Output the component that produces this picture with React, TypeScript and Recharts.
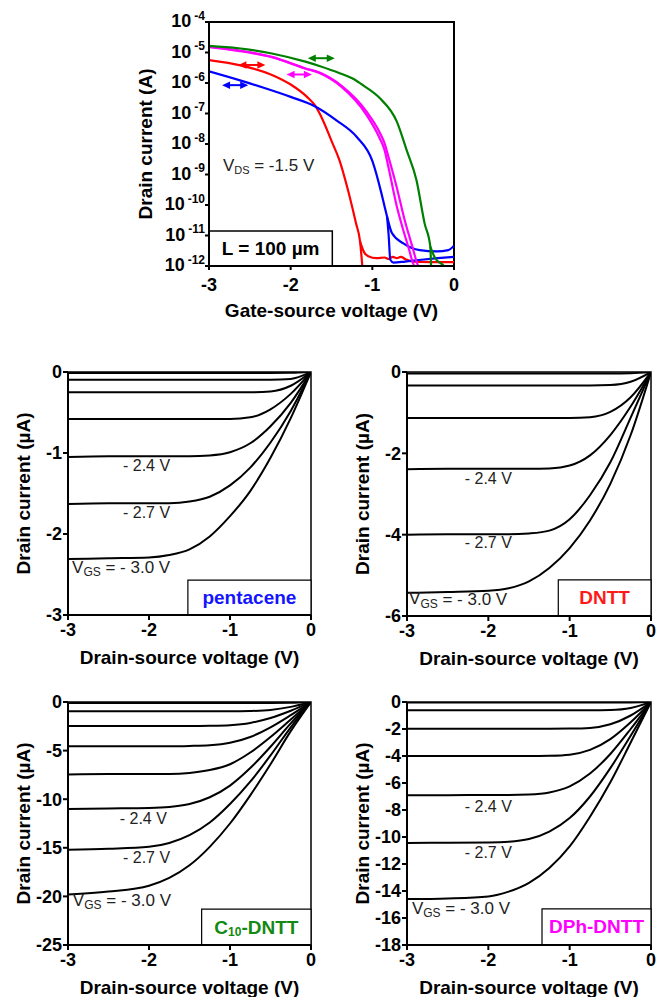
import React from "react";
import { LineChart, Line, XAxis, YAxis, ReferenceArea, ReferenceLine, ReferenceDot } from "recharts";

const FONT = '"Liberation Sans", Arial, Helvetica, sans-serif';

// ---- transfer curves (V_GS in V, |I_D| in A), V_DS = -1.5 V ----
const redV = [-3, -2.6, -2.2, -2.0, -1.8, -1.7, -1.6, -1.5, -1.4, -1.3, -1.2, -1.15, -1.12];
const redI = [5.6e-6, 3.7e-6, 1.7e-6, 8.9e-7, 3.5e-7, 1.8e-7, 5.6e-8, 1.26e-8, 2.8e-9, 3.2e-10, 2.5e-11, 6.3e-12, 8e-13];
const redOffV = [-1.15, -1.1, -1.05, -0.95, -0.85, -0.8, -0.75, -0.7, -0.65, -0.6, -0.5, -0.3, 0];
const redOffI = [6.3e-12, 2.8e-12, 2.1e-12, 1.8e-12, 1.9e-12, 1.7e-12, 2.0e-12, 1.8e-12, 2.0e-12, 1.7e-12, 1.4e-12, 1.35e-12, 1.35e-12];

const blueV = [-3, -2.6, -2.34, -2.0, -1.7, -1.44, -1.19, -1.0, -0.89, -0.85, -0.82, -0.76, -0.62, -0.42, -0.21, -0.07, 0];
const blueI = [2.4e-6, 1.17e-6, 7.1e-7, 3.5e-7, 1.7e-7, 6.0e-8, 1.7e-8, 2.8e-9, 2.5e-10, 8.9e-11, 4.2e-11, 1.2e-11, 5.5e-12, 3.3e-12, 3.0e-12, 3.3e-12, 4.6e-12];
const blueOffV = [-0.82, -0.8, -0.78, -0.74, -0.6, -0.4, -0.2, 0];
const blueOffI = [4.2e-11, 1.0e-11, 1.6e-12, 1.3e-12, 1.4e-12, 1.6e-12, 1.8e-12, 2.0e-12];

const magV = [-3, -2.64, -2.23, -1.82, -1.64, -1.38, -1.07, -0.91, -0.85, -0.8, -0.7, -0.63, -0.56, -0.5, -0.47];
const magI = [1.55e-5, 1.17e-5, 7.2e-6, 3.0e-6, 2.1e-6, 7.6e-7, 8.9e-8, 1.55e-8, 6.3e-9, 1.6e-9, 8.9e-11, 1.8e-11, 4.3e-12, 1.2e-12, 8e-13];
const mag2V = [-3, -2.64, -2.23, -1.82, -1.64, -1.38, -1.07, -0.91, -0.85, -0.8, -0.7, -0.61, -0.51, -0.45, -0.42];
const mag2I = [1.5e-5, 1.13e-5, 7.0e-6, 3.0e-6, 2.15e-6, 8.2e-7, 1.15e-7, 2.4e-8, 1.05e-8, 3.6e-9, 3.7e-10, 3.7e-11, 4.3e-12, 1.2e-12, 8e-13];

const greenV = [-3, -2.64, -2.23, -1.82, -1.64, -1.4, -1.23, -1.1, -0.91, -0.7, -0.58, -0.46, -0.36, -0.29, -0.28];
const greenI = [1.66e-5, 1.38e-5, 9.3e-6, 5.0e-6, 3.55e-6, 2.1e-6, 1.35e-6, 7.9e-7, 3.2e-7, 5.4e-8, 6.3e-9, 6.6e-10, 2.5e-11, 4.3e-12, 8e-13];
const greenOffV = [-0.29, -0.23, -0.18, -0.13, -0.11];
const greenOffI = [4.3e-12, 1.8e-12, 1.3e-12, 1.05e-12, 8e-13];

const decades = [1e-12, 1e-11, 1e-10, 1e-9, 1e-8, 1e-7, 1e-6, 1e-5, 1e-4];

// ---- output curves (V_DS in V, I_D in uA), V_GS from -0.9/-1.2 V to -3.0 V ----
const vds = [0, -0.25, -0.5, -0.75, -1, -1.25, -1.5, -1.75, -2, -2.5, -3];

const pen30 = [0, -0.57, -1.06, -1.47, -1.78, -2.03, -2.19, -2.26, -2.29, -2.3, -2.31];
const pen27 = [0, -0.48, -0.87, -1.18, -1.4, -1.54, -1.6, -1.62, -1.62, -1.62, -1.63];
const pen24 = [0, -0.38, -0.67, -0.88, -0.99, -1.03, -1.04, -1.04, -1.04, -1.04, -1.05];
const pen21 = [0, -0.27, -0.46, -0.56, -0.58, -0.58, -0.58, -0.58, -0.58, -0.58, -0.58];
const pen18 = [0, -0.17, -0.24, -0.25, -0.25, -0.25, -0.25, -0.25, -0.25, -0.25, -0.25];
const pen15 = [0, -0.085, -0.095, -0.095, -0.095, -0.095, -0.095, -0.095, -0.095, -0.095, -0.095];
const pen12 = [0, -0.01, -0.012, -0.012, -0.012, -0.012, -0.012, -0.012, -0.012, -0.012, -0.012];

const dntt30 = [0, -1.55, -2.75, -3.65, -4.33, -4.82, -5.15, -5.32, -5.38, -5.41, -5.43];
const dntt27 = [0, -1.12, -2.22, -3.03, -3.62, -3.9, -3.97, -3.99, -3.99, -3.99, -4.0];
const dntt24 = [0, -0.85, -1.55, -2.05, -2.3, -2.37, -2.38, -2.38, -2.38, -2.38, -2.39];
const dntt21 = [0, -0.62, -0.98, -1.11, -1.13, -1.13, -1.13, -1.13, -1.13, -1.13, -1.13];
const dntt18 = [0, -0.24, -0.32, -0.33, -0.33, -0.33, -0.33, -0.33, -0.33, -0.33, -0.33];
const dntt15 = [0, -0.03, -0.035, -0.035, -0.035, -0.035, -0.035, -0.035, -0.035, -0.035, -0.035];

const c10_30 = [0, -3.0, -6.4, -9.6, -12.5, -14.9, -16.8, -18.1, -18.9, -19.5, -19.8];
const c10_27 = [0, -2.6, -5.5, -8.2, -10.5, -12.4, -13.7, -14.5, -14.9, -15.1, -15.2];
const c10_24 = [0, -2.2, -4.6, -6.8, -8.6, -9.8, -10.5, -10.8, -10.9, -10.95, -11.0];
const c10_21 = [0, -1.8, -3.6, -5.2, -6.4, -7.0, -7.3, -7.4, -7.4, -7.4, -7.45];
const c10_18 = [0, -1.35, -2.6, -3.6, -4.2, -4.45, -4.52, -4.55, -4.55, -4.55, -4.55];
const c10_15 = [0, -0.9, -1.65, -2.15, -2.38, -2.45, -2.47, -2.47, -2.47, -2.47, -2.47];
const c10_12 = [0, -0.5, -0.82, -0.93, -0.96, -0.96, -0.96, -0.96, -0.96, -0.96, -0.96];
const c10_09 = [0, -0.09, -0.1, -0.1, -0.1, -0.1, -0.1, -0.1, -0.1, -0.1, -0.1];

const dph30 = [0, -3.0, -5.95, -8.5, -10.7, -12.3, -13.4, -14.05, -14.4, -14.55, -14.6];
const dph27 = [0, -2.5, -4.9, -7.0, -8.6, -9.6, -10.15, -10.35, -10.4, -10.42, -10.45];
const dph24 = [0, -2.0, -3.85, -5.3, -6.25, -6.7, -6.85, -6.88, -6.88, -6.9, -6.9];
const dph21 = [0, -1.5, -2.75, -3.55, -3.9, -3.98, -4.0, -4.0, -4.0, -4.0, -4.0];
const dph18 = [0, -1.0, -1.65, -1.92, -1.97, -1.98, -1.98, -1.98, -1.98, -1.98, -1.98];
const dph15 = [0, -0.45, -0.6, -0.62, -0.62, -0.62, -0.62, -0.62, -0.62, -0.62, -0.62];
const dph12 = [0, -0.03, -0.04, -0.04, -0.04, -0.04, -0.04, -0.04, -0.04, -0.04, -0.04];

const vdsTicks = [-3, -2, -1, 0];

const pts = (xs: number[], ys: number[]) => xs.map((v, i) => ({ v, i: ys[i] }));

const rows = (curves: number[][]) =>
  vds.map((v, i) => {
    const r: any = { v };
    curves.forEach((c, k) => (r["c" + k] = c[i]));
    return r;
  });

const tickStyle = { fill: "#000", fontSize: 18, fontWeight: 700, fontFamily: FONT };
const axisLine = { stroke: "#000", strokeWidth: 2 };

function PowTick({ x, y, payload }: any) {
  const exp = Math.round(Math.log10(payload.value));
  return (
    <text x={x} y={y} textAnchor="end" fontFamily={FONT} fontWeight={700} fill="#000">
      <tspan fontSize={18} dy={5}>10</tspan>
      <tspan fontSize={12} dy={-7.5} dx={3}>{exp}</tspan>
    </text>
  );
}

const xTitle = (text: string, dy: number) => ({
  content: (p: any) => {
    const vb = p.viewBox;
    return (
      <text x={vb.x + vb.width / 2} y={vb.y + dy} textAnchor="middle" dominantBaseline="central"
        fontFamily={FONT} fontWeight={700} fontSize={19} fill="#000">{text}</text>
    );
  },
});

const yTitle = (text: string, dx: number) => ({
  content: (p: any) => {
    const vb = p.viewBox;
    const cx = vb.x + vb.width - dx;
    const cy = vb.y + vb.height / 2;
    return (
      <text x={cx} y={cy} transform={`rotate(-90 ${cx} ${cy})`} textAnchor="middle" dominantBaseline="central"
        fontFamily={FONT} fontWeight={700} fontSize={19} fill="#000">{text}</text>
    );
  },
});

function Arrow({ x1, y1, x2, y2, color }: any) {
  const h = 6;
  return (
    <g>
      <line x1={x1 + 3} y1={y1} x2={x2 - 3} y2={y2} stroke={color} strokeWidth={2} />
      <polygon points={`${x1},${y1} ${x1 + h + 2},${y1 - h / 1.6} ${x1 + h + 2},${y1 + h / 1.6}`} fill={color} />
      <polygon points={`${x2},${y2} ${x2 - h - 2},${y2 - h / 1.6} ${x2 - h - 2},${y2 + h / 1.6}`} fill={color} />
    </g>
  );
}

function Note({ cx, cy, text }: any) {
  return (
    <text x={cx} y={cy} textAnchor="middle" dominantBaseline="central"
      fontFamily={FONT} fontSize={16} fill="#222">{text}</text>
  );
}

function VgsNote({ cx, cy }: any) {
  return (
    <text x={cx} y={cy} dominantBaseline="central" fontFamily={FONT} fontSize={17} fill="#222">
      V<tspan fontSize={12} dy={5}>GS</tspan>
      <tspan dy={-5}> = - 3.0 V</tspan>
    </text>
  );
}

const boxLabel = (name: string, color: string, sub?: string, rest?: string) => ({
  content: (p: any) => {
    const vb = p.viewBox;
    return (
      <text x={vb.x + vb.width / 2} y={vb.y + vb.height / 2} textAnchor="middle" dominantBaseline="central"
        fontFamily={FONT} fontWeight={700} fontSize={19} fill={color}>
        {name}
        {sub ? <tspan fontSize={12} dy={5}>{sub}</tspan> : null}
        {rest ? <tspan dy={sub ? -5 : 0}>{rest}</tspan> : null}
      </text>
    );
  },
});

function OutputPanel(props: any) {
  const { left, top, w, h, yW, xH, rM, curves, yTicks, box, label, notes } = props;
  const yMin = yTicks[yTicks.length - 1];
  const data = rows(curves);
  return (
    <div style={{ position: "absolute", left, top }}>
      <LineChart width={w} height={h} data={data} margin={{ top: 32, right: rM, left: 0, bottom: 0 }}>
        <XAxis type="number" dataKey="v" domain={[-3, 0]} ticks={vdsTicks} allowDataOverflow height={xH}
          axisLine={axisLine} tickLine={axisLine} tickSize={5} tickMargin={3} tick={tickStyle}
          label={xTitle("Drain-source voltage (V)", 42)} />
        <YAxis type="number" domain={[yMin, 0]} ticks={yTicks} allowDataOverflow width={yW}
          axisLine={axisLine} tickLine={axisLine} tickSize={5} tickMargin={1} tick={tickStyle}
          label={yTitle("Drain current (µA)", 45)} />
        <ReferenceArea x1={-3} x2={0} y1={yMin} y2={0} fill="none" stroke="#000" strokeWidth={1.5} fillOpacity={0} />
        {curves.map((_: any, k: number) => (
          <Line key={k} dataKey={"c" + k} type="monotone" stroke="#000" strokeWidth={2} dot={false}
            activeDot={false} isAnimationActive={false} />
        ))}
        <ReferenceArea x1={box[0]} x2={0} y1={yMin} y2={box[1]} fill="#fff" fillOpacity={1} stroke="#000"
          strokeWidth={1.2} label={label} />
        <ReferenceDot x={notes[0][0]} y={notes[0][1]} r={0} ifOverflow="visible"
          shape={(p: any) => <Note cx={p.cx} cy={p.cy} text="- 2.4 V" />} />
        <ReferenceDot x={notes[1][0]} y={notes[1][1]} r={0} ifOverflow="visible"
          shape={(p: any) => <Note cx={p.cx} cy={p.cy} text="- 2.7 V" />} />
        <ReferenceDot x={notes[2][0]} y={notes[2][1]} r={0} ifOverflow="visible"
          shape={(p: any) => <VgsNote cx={p.cx} cy={p.cy} />} />
      </LineChart>
    </div>
  );
}

function TransferPanel() {
  const series = [
    { d: pts(redV, redI), c: "#ff0000" },
    { d: pts(redOffV, redOffI), c: "#ff0000" },
    { d: pts(blueV, blueI), c: "#0000ff" },
    { d: pts(blueOffV, blueOffI), c: "#0000ff" },
    { d: pts(magV, magI), c: "#ff00ff" },
    { d: pts(mag2V, mag2I), c: "#ff00ff" },
    { d: pts(greenV, greenI), c: "#008000" },
    { d: pts(greenOffV, greenOffI), c: "#008000" },
  ];
  const arrows = [
    { a: -2.64, b: -2.31, y: 3.9e-6, c: "#ff0000" },
    { a: -2.84, b: -2.52, y: 8.5e-7, c: "#0000ff" },
    { a: -2.05, b: -1.74, y: 1.9e-6, c: "#ff00ff" },
    { a: -1.79, b: -1.46, y: 6.5e-6, c: "#008000" },
  ];
  return (
    <div style={{ position: "absolute", left: 0, top: 0 }}>
      <LineChart width={659} height={330} margin={{ top: 22, right: 205, left: 0, bottom: 24 }}>
        <XAxis type="number" dataKey="v" domain={[-3, 0]} ticks={vdsTicks} allowDataOverflow height={40}
          axisLine={axisLine} tickLine={axisLine} tickSize={4} tickMargin={8} tick={tickStyle}
          label={xTitle("Gate-source voltage (V)", 44)} />
        <YAxis type="number" scale="log" domain={[1e-12, 1e-4]} ticks={decades} allowDataOverflow width={209}
          axisLine={axisLine} tickLine={axisLine} tickSize={4} tickMargin={0}
          tick={(p: any) => <PowTick {...p} />} label={yTitle("Drain current (A)", 64)} />
        <ReferenceArea x1={-3} x2={0} y1={1e-12} y2={1e-4} fill="none" fillOpacity={0} stroke="#000" strokeWidth={2} />
        <ReferenceArea x1={-3} x2={-1.49} y1={1e-12} y2={1.4e-11} fill="#fff" fillOpacity={1} stroke="#000"
          strokeWidth={1.5} label={boxLabel("L = 100 µm", "#000")} />
        {series.map((s, k) => (
          <Line key={k} data={s.d} dataKey="i" type="monotone" stroke={s.c} strokeWidth={2.2} dot={false}
            activeDot={false} isAnimationActive={false} />
        ))}
        {arrows.map((a, k) => (
          <ReferenceLine key={k} segment={[{ x: a.a, y: a.y }, { x: a.b, y: a.y }]}
            shape={(p: any) => <Arrow {...p} color={a.c} />} />
        ))}
        <ReferenceDot x={-2.83} y={2.0e-9} r={0} ifOverflow="visible"
          shape={(p: any) => (
            <text x={p.cx} y={p.cy} dominantBaseline="central" fontFamily={FONT} fontSize={17} fill="#222">
              V<tspan fontSize={11} dy={5}>DS</tspan>
              <tspan dy={-5}> = -1.5 V</tspan>
            </text>
          )} />
      </LineChart>
    </div>
  );
}

export default function App() {
  return (
    <div style={{ position: "relative", width: 659, height: 997, background: "#fff", overflow: "hidden" }}>
      <style>{"body{margin:0}"}</style>
      <TransferPanel />
      <OutputPanel left={0} top={340} w={330} h={340} yW={68} xH={65} rM={19}
        curves={[pen12, pen15, pen18, pen21, pen24, pen27, pen30]} yTicks={[0, -1, -2, -3]}
        box={[-1.52, -2.57]} label={boxLabel("pentacene", "#1414ff")}
        notes={[[-2.03, -1.15], [-2.03, -1.73], [-2.95, -2.41]]} />
      <OutputPanel left={330} top={340} w={329} h={340} yW={77} xH={64} rM={8}
        curves={[dntt15, dntt18, dntt21, dntt24, dntt27, dntt30]} yTicks={[0, -2, -4, -6]}
        box={[-1.14, -5.11]} label={boxLabel("DNTT", "#ff1a1a")}
        notes={[[-2.0, -2.61], [-2.0, -4.2], [-2.975, -5.57]]} />
      <OutputPanel left={0} top={670} w={330} h={327} yW={68} xH={52} rM={19}
        curves={[c10_09, c10_12, c10_15, c10_18, c10_21, c10_24, c10_27, c10_30]}
        yTicks={[0, -5, -10, -15, -20, -25]}
        box={[-1.35, -21.3]} label={boxLabel("C", "#138a13", "10", "-DNTT")}
        notes={[[-2.07, -11.96], [-2.03, -16.0], [-2.94, -20.4]]} />
      <OutputPanel left={330} top={670} w={329} h={327} yW={77} xH={52} rM={8}
        curves={[dph12, dph15, dph18, dph21, dph24, dph27, dph30]}
        yTicks={[0, -2, -4, -6, -8, -10, -12, -14, -16, -18]}
        box={[-1.34, -15.33]} label={boxLabel("DPh-DNTT", "#ff00ff")}
        notes={[[-2.0, -7.76], [-2.0, -11.16], [-2.94, -15.28]]} />
    </div>
  );
}
